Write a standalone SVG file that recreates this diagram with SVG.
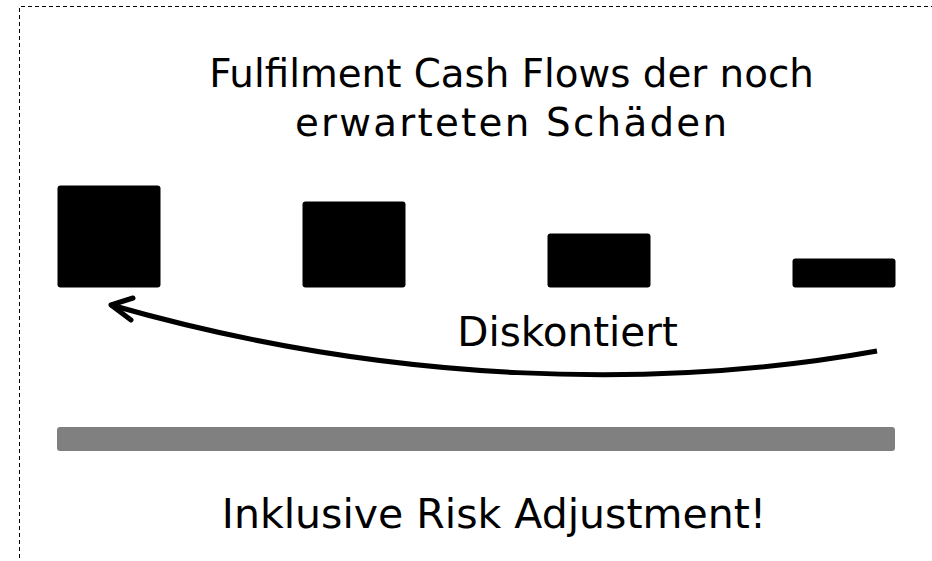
<svg xmlns="http://www.w3.org/2000/svg" width="932" height="561" viewBox="0 0 932 561">
<style>
.t{font-family:"DejaVu Sans",Verdana,sans-serif;fill:#000;text-anchor:middle}
.bar{fill:#000}
</style>
<rect width="932" height="561" fill="#fff"/>
<path d="M19.5,600 V6.5 H960" fill="none" stroke="#000" stroke-width="1" stroke-dasharray="4,3"/>
<g id="title"><text class="t" x="511.5" y="87" font-size="38.8">Fulfilment Cash Flows der noch</text><text class="t" x="511" y="136" font-size="38.8" textLength="432" lengthAdjust="spacing">erwarteten Schäden</text></g>
<g id="cf1"><rect class="bar" x="57.5" y="185.5" width="103" height="102" rx="3"/></g>
<g id="cf2"><rect class="bar" x="302.5" y="201.5" width="103" height="86" rx="3"/></g>
<g id="cf3"><rect class="bar" x="547.5" y="233.5" width="103" height="54" rx="3"/></g>
<g id="cf4"><rect class="bar" x="792.5" y="258.5" width="103" height="29" rx="3"/></g>
<g id="connectors">
<path d="M877,351 C660,390 390,385 111,305" fill="none" stroke="#000" stroke-width="5"/>
<path d="M133,298 L111,305 L131,320" fill="none" stroke="#000" stroke-width="5" stroke-linecap="round" stroke-linejoin="round"/>
</g>
<g id="label"><text class="t" x="567.5" y="346" font-size="40.5">Diskontiert</text></g>
<g id="ra"><rect x="57" y="427" width="838" height="24" rx="3" fill="#808080"/></g>
<g id="footer"><text class="t" x="494" y="528" font-size="41">Inklusive Risk Adjustment!</text></g>
</svg>
